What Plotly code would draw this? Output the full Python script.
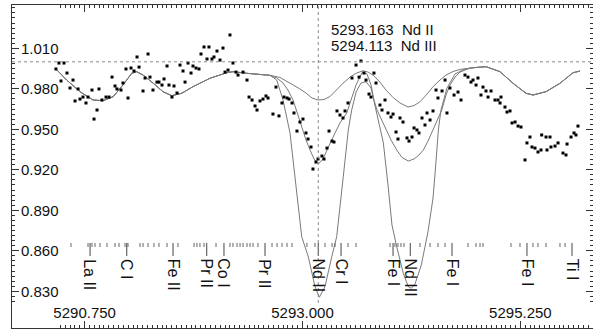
import plotly.graph_objects as go
import numpy as np

# ---------------- data ----------------
observed = [
    (5290.454, 0.9947), (5290.485, 0.9991), (5290.506, 0.9858), (5290.537, 0.9991), (5290.568, 0.9917),
    (5290.599, 0.9806), (5290.630, 0.9865), (5290.651, 0.9710), (5290.682, 0.9799), (5290.702, 0.9724),
    (5290.733, 0.9739), (5290.764, 0.9695), (5290.785, 0.9739), (5290.826, 0.9791), (5290.847, 0.9576),
    (5290.878, 0.9643), (5290.898, 0.9799), (5290.929, 0.9717), (5290.971, 0.9739), (5291.002, 0.9739),
    (5291.033, 0.9887), (5291.064, 0.9821), (5291.084, 0.9799), (5291.126, 0.9791), (5291.146, 0.9843),
    (5291.177, 0.9947), (5291.198, 0.9732), (5291.229, 0.9954), (5291.260, 0.9932), (5291.291, 1.0036),
    (5291.312, 0.9961), (5291.353, 0.9784), (5291.374, 0.9880), (5291.405, 1.0058), (5291.425, 0.9887),
    (5291.456, 0.9791), (5291.497, 0.9850), (5291.518, 0.9850), (5291.549, 0.9828), (5291.570, 0.9873),
    (5291.601, 0.9969), (5291.621, 0.9828), (5291.652, 0.9739), (5291.673, 0.9821), (5291.704, 0.9769),
    (5291.735, 0.9976), (5291.766, 0.9932), (5291.787, 0.9850), (5291.818, 0.9991), (5291.849, 0.9917),
    (5291.869, 0.9969), (5291.900, 0.9954), (5291.931, 0.9947), (5291.952, 1.0058), (5291.983, 1.0110),
    (5292.014, 1.0021), (5292.034, 1.0110), (5292.065, 1.0021), (5292.086, 1.0036), (5292.117, 1.0080),
    (5292.148, 1.0013), (5292.179, 1.0102), (5292.200, 0.9924), (5292.231, 0.9939), (5292.251, 1.0199),
    (5292.282, 0.9991), (5292.313, 0.9924), (5292.334, 0.9902), (5292.386, 0.9924), (5292.427, 0.9865),
    (5292.448, 0.9739), (5292.479, 0.9717), (5292.510, 0.9673), (5292.530, 0.9643), (5292.561, 0.9710),
    (5292.592, 0.9724), (5292.623, 0.9747), (5292.644, 0.9732), (5292.695, 0.9613), (5292.726, 0.9813),
    (5292.757, 0.9599), (5292.788, 0.9695), (5292.809, 0.9739), (5292.840, 0.9732), (5292.861, 0.9724),
    (5292.892, 0.9695), (5292.912, 0.9621), (5292.943, 0.9487), (5292.974, 0.9554), (5293.005, 0.9576),
    (5293.036, 0.9473), (5293.057, 0.9428), (5293.088, 0.9369), (5293.108, 0.9206), (5293.139, 0.9258),
    (5293.160, 0.9280), (5293.201, 0.9302), (5293.222, 0.9280), (5293.253, 0.9361), (5293.274, 0.9487),
    (5293.305, 0.9413), (5293.325, 0.9406), (5293.356, 0.9636), (5293.387, 0.9606), (5293.418, 0.9584),
    (5293.439, 0.9636), (5293.470, 0.9695), (5293.511, 0.9880), (5293.553, 0.9976), (5293.584, 0.9887),
    (5293.604, 1.0006), (5293.635, 0.9917), (5293.656, 0.9865), (5293.687, 0.9761), (5293.707, 0.9739),
    (5293.738, 0.9917), (5293.759, 0.9843), (5293.800, 0.9680), (5293.821, 0.9643), (5293.852, 0.9717),
    (5293.883, 0.9621), (5293.914, 0.9591), (5293.935, 0.9613), (5293.966, 0.9480), (5293.986, 0.9428),
    (5294.007, 0.9584), (5294.038, 0.9554), (5294.079, 0.9436), (5294.100, 0.9413), (5294.131, 0.9443),
    (5294.152, 0.9510), (5294.182, 0.9495), (5294.203, 0.9473), (5294.234, 0.9584), (5294.265, 0.9532),
    (5294.286, 0.9621), (5294.317, 0.9569), (5294.348, 0.9636), (5294.379, 0.9791), (5294.399, 0.9732),
    (5294.441, 0.9784), (5294.472, 0.9865), (5294.492, 0.9621), (5294.523, 0.9806), (5294.565, 0.9754),
    (5294.606, 0.9776), (5294.637, 0.9717), (5294.678, 0.9902), (5294.709, 0.9887), (5294.740, 0.9850),
    (5294.761, 0.9865), (5294.792, 0.9828), (5294.812, 0.9880), (5294.843, 0.9754), (5294.864, 0.9813),
    (5294.895, 0.9784), (5294.916, 0.9739), (5294.947, 0.9784), (5294.988, 0.9717), (5295.019, 0.9717),
    (5295.040, 0.9695), (5295.050, 0.9739), (5295.091, 0.9665), (5295.112, 0.9628), (5295.143, 0.9636),
    (5295.164, 0.9547), (5295.195, 0.9554), (5295.226, 0.9524), (5295.256, 0.9517), (5295.298, 0.9273),
    (5295.318, 0.9399), (5295.349, 0.9443), (5295.370, 0.9369), (5295.401, 0.9361), (5295.432, 0.9332),
    (5295.463, 0.9347), (5295.470, 0.9458), (5295.515, 0.9443), (5295.525, 0.9347), (5295.556, 0.9443),
    (5295.566, 0.9369), (5295.608, 0.9376), (5295.639, 0.9399), (5295.690, 0.9324), (5295.721, 0.9310),
    (5295.732, 0.9391), (5295.773, 0.9443), (5295.804, 0.9473), (5295.824, 0.9458), (5295.845, 0.9524),
]
obs_wl = [p[0] for p in observed]
obs_flux = [p[1] for p in observed]

# synthetic spectra: common blue part, three Nd branches, common red part
synth_left = [
    (5290.454, 0.9947), (5290.565, 0.9865), (5290.702, 0.9779), (5290.837, 0.9717), (5290.940, 0.9712),
    (5291.043, 0.9741), (5291.146, 0.9828), (5291.236, 0.9915), (5291.288, 0.9927), (5291.353, 0.9902),
    (5291.456, 0.9843), (5291.559, 0.9779), (5291.649, 0.9749), (5291.753, 0.9767), (5291.869, 0.9816),
    (5292.045, 0.9878), (5292.217, 0.9919), (5292.282, 0.9927), (5292.424, 0.9915), (5292.592, 0.9902),
    (5292.664, 0.9900),
]
synth_weak = [
    (5292.768, 0.9884), (5292.871, 0.9843), (5292.974, 0.9799), (5293.036, 0.9769), (5293.098, 0.9732),
    (5293.160, 0.9717), (5293.222, 0.9721), (5293.284, 0.9743), (5293.346, 0.9791), (5293.418, 0.9841),
    (5293.491, 0.9887), (5293.553, 0.9915), (5293.625, 0.9934), (5293.677, 0.9924), (5293.728, 0.9902),
    (5293.800, 0.9850), (5293.862, 0.9791), (5293.935, 0.9736), (5294.007, 0.9695), (5294.090, 0.9665),
    (5294.152, 0.9676), (5294.214, 0.9704), (5294.286, 0.9761), (5294.348, 0.9816), (5294.420, 0.9865),
    (5294.482, 0.9902), (5294.554, 0.9928), (5294.627, 0.9944), (5294.761, 0.9956),
]
synth_mid = [
    (5292.734, 0.9880), (5292.799, 0.9843), (5292.850, 0.9791), (5292.902, 0.9717), (5292.943, 0.9628),
    (5292.992, 0.9510), (5293.036, 0.9421), (5293.078, 0.9347), (5293.119, 0.9280), (5293.163, 0.9243),
    (5293.212, 0.9280), (5293.253, 0.9347), (5293.284, 0.9399), (5293.336, 0.9473), (5293.387, 0.9547),
    (5293.457, 0.9621), (5293.501, 0.9717), (5293.553, 0.9828), (5293.615, 0.9921), (5293.666, 0.9910),
    (5293.708, 0.9828), (5293.738, 0.9717), (5293.770, 0.9643), (5293.821, 0.9561), (5293.870, 0.9495),
    (5293.914, 0.9421), (5293.973, 0.9347), (5294.028, 0.9291), (5294.093, 0.9265), (5294.152, 0.9280),
    (5294.203, 0.9310), (5294.248, 0.9347), (5294.296, 0.9413), (5294.348, 0.9495), (5294.389, 0.9569),
    (5294.438, 0.9643), (5294.482, 0.9754), (5294.523, 0.9828), (5294.575, 0.9887), (5294.627, 0.9924),
    (5294.730, 0.9954), (5294.782, 0.9958),
]
synth_strong = [
    (5292.734, 0.9865), (5292.799, 0.9717), (5292.871, 0.9473), (5292.902, 0.9273), (5292.943, 0.8976),
    (5292.992, 0.8704), (5293.060, 0.8556), (5293.129, 0.8334), (5293.174, 0.8256), (5293.232, 0.8334),
    (5293.302, 0.8556), (5293.353, 0.8704), (5293.421, 0.9149), (5293.473, 0.9495), (5293.508, 0.9643),
    (5293.553, 0.9776), (5293.604, 0.9843), (5293.656, 0.9853), (5293.708, 0.9806), (5293.749, 0.9680),
    (5293.790, 0.9532), (5293.835, 0.9399), (5293.883, 0.9087), (5293.924, 0.8791), (5293.973, 0.8630),
    (5294.041, 0.8433), (5294.093, 0.8334), (5294.124, 0.8322), (5294.162, 0.8354), (5294.227, 0.8495),
    (5294.296, 0.8741), (5294.348, 0.8991), (5294.376, 0.9236), (5294.403, 0.9495), (5294.430, 0.9643),
    (5294.492, 0.9806), (5294.575, 0.9910), (5294.678, 0.9947), (5294.782, 0.9958),
]
synth_right = [
    (5294.895, 0.9964), (5295.040, 0.9927), (5295.174, 0.9841), (5295.308, 0.9767), (5295.381, 0.9754),
    (5295.515, 0.9779), (5295.659, 0.9841), (5295.794, 0.9919), (5295.866, 0.9932),
]

# line identifications
line_marks_wl = [
    5290.609, 5290.785, 5290.826, 5290.857, 5290.909, 5290.981, 5291.064, 5291.105, 5291.167, 5291.198,
    5291.322, 5291.353, 5291.405, 5291.466, 5291.518, 5291.601, 5291.714, 5291.880, 5291.910, 5291.941,
    5291.983, 5292.107, 5292.251, 5292.282, 5292.324, 5292.355, 5292.386, 5292.427, 5292.458, 5292.489,
    5292.540, 5292.685, 5292.737, 5292.788, 5292.840, 5292.892, 5293.046, 5293.129, 5293.232, 5293.305,
    5293.336, 5293.470, 5293.553, 5293.904, 5293.955, 5293.986, 5294.017, 5294.048, 5294.213, 5294.317,
    5294.399, 5294.472, 5294.709, 5294.792, 5294.833, 5294.864, 5295.153, 5295.246, 5295.380, 5295.432,
    5295.515, 5295.659, 5295.711,
]
label_wl = [5290.806, 5291.185, 5291.663, 5292.011, 5292.189, 5292.613, 5293.163, 5293.398,
            5293.935, 5294.113, 5294.544, 5295.318, 5295.783]
label_names = ["La II", "C I", "Fe II", "Pr II", "Co I", "Pr II", "Nd II", "Cr I",
               "Fe I", "Nd III", "Fe I", "Fe I", "Ti I"]

marked_lines = [5293.163, 5294.113]
marked_names = ["Nd II", "Nd III"]

x_tick_vals = [5290.75, 5293.0, 5295.25]
x_tick_text = ["5290.750", "5293.000", "5295.250"]
y_tick_vals = [0.83, 0.86, 0.89, 0.92, 0.95, 0.98, 1.01]
y_tick_text = ["0.830", "0.860", "0.890", "0.920", "0.950", "0.980", "1.010"]

# ---------------- figure ----------------
FONT = "Liberation Sans, Arial, Helvetica, sans-serif"
X_RANGE = [5290.0, 5296.0]
Y_RANGE = [0.8028, 1.0421]
CURVE = "#7a7a7a"

fig = go.Figure()

for branch in (synth_weak, synth_mid, synth_strong):
    pts = synth_left + branch + synth_right
    fig.add_trace(go.Scatter(x=[p[0] for p in pts], y=[p[1] for p in pts], mode="lines",
                             line=dict(color=CURVE, width=1), hoverinfo="skip", showlegend=False))

fig.add_trace(go.Scatter(x=obs_wl, y=obs_flux, mode="markers",
                         marker=dict(symbol="square", size=3, color="black", line=dict(width=0)),
                         showlegend=False))

# short identification ticks
sx, sy = [], []
for w in line_marks_wl:
    sx += [w, w, None]
    sy += [0.8658, 0.8628, None]
fig.add_trace(go.Scatter(x=sx, y=sy, mode="lines", line=dict(color="#666", width=1),
                         hoverinfo="skip", showlegend=False))
# long labelled ticks
lx, ly = [], []
for w in label_wl:
    lx += [w, w, None]
    ly += [0.8658, 0.8562, None]
fig.add_trace(go.Scatter(x=lx, y=ly, mode="lines", line=dict(color="#444", width=1),
                         hoverinfo="skip", showlegend=False))

for w, name in zip(label_wl, label_names):
    fig.add_annotation(x=w, y=0.8556, text=name, textangle=90, showarrow=False,
                       xanchor="center", yanchor="top",
                       font=dict(family=FONT, size=16, color="#111"))

# reference lines
fig.add_shape(type="line", x0=X_RANGE[0], x1=X_RANGE[1], y0=1.0, y1=1.0,
              line=dict(color="#888", width=1, dash="dot"))
fig.add_shape(type="line", x0=marked_lines[0], x1=marked_lines[0], y0=0.8213, y1=Y_RANGE[1],
              line=dict(color="#888", width=1, dash="dot"))

for i, (w, name) in enumerate(zip(marked_lines, marked_names)):
    fig.add_annotation(x=5293.27, y=[1.0243, 1.0120][i], text=f"{w:.3f}\u00a0 {name}",
                       showarrow=False, xanchor="left", yanchor="middle",
                       font=dict(family=FONT, size=15, color="#111"))

axis_common = dict(showline=True, linecolor="#333", linewidth=1, mirror="ticks",
                   ticks="inside", tickcolor="#333", ticklen=7, tickwidth=1,
                   showgrid=False, zeroline=False, ticklabelposition="inside",
                   automargin=False,
                   tickfont=dict(family=FONT, size=15, color="#111"))

fig.update_xaxes(range=X_RANGE, tickmode="array", tickvals=x_tick_vals, ticktext=x_tick_text,
                 minor=dict(tickmode="linear", tick0=5290.0, dtick=0.05, ticks="inside",
                            ticklen=3, tickcolor="#333", showgrid=False),
                 **axis_common)
fig.update_yaxes(range=Y_RANGE, tickmode="array", tickvals=y_tick_vals, ticktext=y_tick_text,
                 ticklabelstandoff=2,
                 minor=dict(tickmode="linear", tick0=0.83, dtick=0.00375, ticks="inside",
                            ticklen=3, tickcolor="#333", showgrid=False),
                 **axis_common)

fig.update_layout(width=593, height=329,
                  margin=dict(l=12, r=0, t=5, b=1, autoexpand=False),
                  plot_bgcolor="white", paper_bgcolor="white", showlegend=False)

fig.write_html("out.html", config={"displayModeBar": False},
               post_script="document.body.style.margin='0';")
